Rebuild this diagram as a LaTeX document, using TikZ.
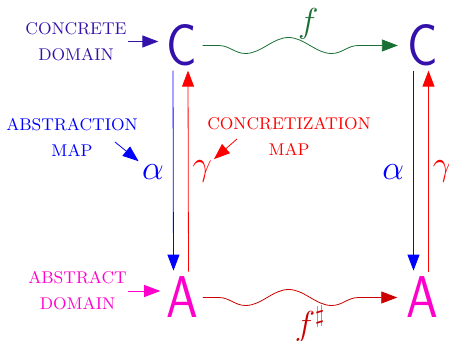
\documentclass[tikz,border=0pt]{standalone}
\usepackage{amsmath, amssymb}
\usetikzlibrary{arrows.meta,decorations.pathmorphing,positioning}
\definecolor{concol}{RGB}{51,17,170}
\definecolor{abscol}{RGB}{255,0,204}
\definecolor{fcol}{RGB}{25,112,52}
\definecolor{fsharpcol}{RGB}{204,0,0}
\newcommand{\narrowsf}[1]{\scalebox{0.86}[1]{#1}}
\tikzset{>={Triangle[length=8pt,width=6pt]}}
\tikzset{line width=0.5pt}
\tikzset{
  dom/.style={inner sep=0pt, font=\fontsize{29.5pt}{30pt}\sffamily},
  tag/.style={align=center, inner sep=0pt, font=\fontsize{8.5pt}{13pt}\selectfont},
  map/.style={inner sep=0pt, font=\fontsize{18pt}{20pt}\selectfont},
  wave/.style={->, decorate, decoration={snake, mirror, amplitude=4pt,
      segment length=43pt, pre length=8pt, post length=4pt}}
}
\begin{document}
\begin{tikzpicture}[x=0.5pt, y=-0.5pt]
  \useasboundingbox (0,0) rectangle (449,341);
  % the four domains
  \node[dom, concol] (C1) at (182,45.5) {\narrowsf{C}};
  \node[dom, concol] (C2) at (422.5,45.5) {\narrowsf{C}};
  \node[dom, abscol] (A1) at (182.5,297.5) {\narrowsf{A}};
  \node[dom, abscol] (A2) at (422.5,297.5) {\narrowsf{A}};
  % abstraction and concretization maps
  \draw[->, blue, shorten <=2pt, shorten >=3pt] ([xshift=-4.5pt]C1.south) --
    node[map, left=4.5pt] (alphaL) {$\alpha$} ([xshift=-4.5pt]A1.north);
  \draw[->, red, shorten <=2.5pt, shorten >=2pt] ([xshift=3pt]A1.north) --
    node[map, right=2pt] (gammaL) {$\gamma$} ([xshift=3pt]C1.south);
  \draw[->, blue, shorten <=2pt, shorten >=3pt] ([xshift=-4.5pt]C2.south) --
    node[map, left=4.5pt] (alphaR) {$\alpha$} ([xshift=-4.5pt]A2.north);
  \draw[->, red, shorten <=2.5pt, shorten >=2pt] ([xshift=3pt]A2.north) --
    node[map, right=2pt] (gammaR) {$\gamma$} ([xshift=3pt]C2.south);
  % concrete and abstract functions
  \draw[wave, fcol] ([xshift=2.5pt]C1.east) --
    node[map, above=3pt, xshift=4pt] (fc) {$f$} ([xshift=-4.5pt]C2.west);
  \draw[wave, fsharpcol] ([xshift=2pt]A1.east) --
    node[map, below=4pt, xshift=5pt] (fa) {$f^\sharp$} ([xshift=-4.5pt]A2.west);
  % side labels
  \node[tag, concol] (cd) at (76,41.5) {CONCRETE\\DOMAIN};
  \node[tag, blue] (am) at (72,137) {ABSTRACTION\\MAP};
  \node[tag, red] (cm) at (289,136.5) {CONCRETIZATION\\MAP};
  \node[tag, abscol] (ad) at (77.5,291) {ABSTRACT\\DOMAIN};
  \coordinate (amtail) at (115,142);
  \coordinate (cmtail) at (237,139);
  \draw[->, concol, shorten <=0.5pt, shorten >=4pt] (cd.east) -- (cd.east -| C1.west);
  \draw[->, abscol, shorten <=0.5pt, shorten >=3pt] (ad.east) -- (ad.east -| A1.west);
  \draw[->, blue, shorten >=2pt] (amtail) -- (alphaL.north west);
  \draw[->, red, shorten >=1pt] (cmtail) -- (gammaL.north east);
\end{tikzpicture}
\end{document}
